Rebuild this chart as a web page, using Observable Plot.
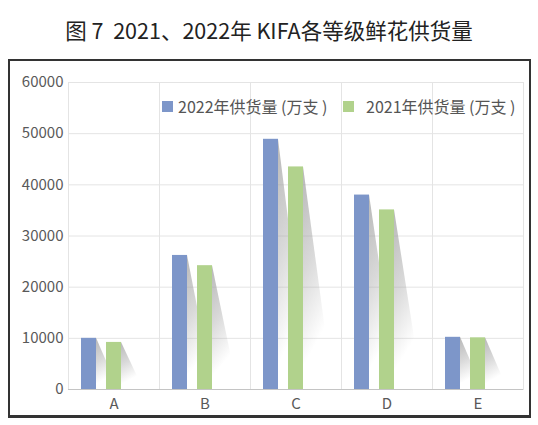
<!DOCTYPE html>
<html><head><meta charset="utf-8">
<script src="https://cdn.jsdelivr.net/npm/d3@7"></script>
<script src="https://cdn.jsdelivr.net/npm/@observablehq/plot@0.6"></script>
<style>
html,body{margin:0;padding:0;background:#fff;}
body{width:538px;height:425px;position:relative;overflow:hidden;font-family:"Noto Sans CJK SC","Noto Sans",sans-serif;}
#title{position:absolute;left:0;top:16px;width:538px;text-align:center;font-size:21.5px;color:#222;line-height:28px;white-space:pre;}
#box{position:absolute;left:8px;top:59px;width:519px;height:354px;border:2px solid #333;border-bottom-width:3px;}
#chart{position:absolute;left:0;top:58px;}
.sw{position:absolute;top:101px;width:11px;height:11px;}
.leg{position:absolute;top:97px;font-size:16px;color:#555;line-height:18px;white-space:pre;}
</style>
</head><body>
<div id="title">图 7  2021、2022年 KIFA各等级鲜花供货量</div>
<div id="box"></div>
<div id="chart"></div>
<div id="legend"></div>
<script>
const categories = ["A", "B", "C", "D", "E"];
const seriesKeys = ["2022", "2021"];
const seriesLabels = ["2022年供货量 (万支 )", "2021年供货量 (万支 )"];
const supply2022 = [10000, 26200, 48900, 38000, 10200];
const supply2021 = [9200, 24200, 43500, 35100, 10100];
const yTicks = [0, 10000, 20000, 30000, 40000, 50000, 60000];
const colors = ["#7d96c9", "#b1d28c"];

const rows = [];
categories.forEach((c, i) => {
  rows.push({cat: c, key: seriesKeys[0], value: supply2022[i]});
  rows.push({cat: c, key: seriesKeys[1], value: supply2021[i]});
});

let shadowCount = 0;
function shadowRender(index, scales, values, dimensions, context, next) {
  const g = next(index, scales, values, dimensions, context);
  const ns = "http://www.w3.org/2000/svg";
  const id = "shadowgrad" + (shadowCount++);
  const defs = document.createElementNS(ns, "defs");
  const lg = document.createElementNS(ns, "linearGradient");
  lg.setAttribute("id", id);
  lg.setAttribute("x1", "0"); lg.setAttribute("y1", "0");
  lg.setAttribute("x2", "0.25"); lg.setAttribute("y2", "1");
  [[0, 0.75], [0.45, 0.4], [0.85, 0]].forEach(([o, a]) => {
    const s = document.createElementNS(ns, "stop");
    s.setAttribute("offset", o);
    s.setAttribute("stop-color", "#a0a0a0");
    s.setAttribute("stop-opacity", a);
    lg.appendChild(s);
  });
  defs.appendChild(lg);
  g.insertBefore(defs, g.firstChild);
  g.querySelectorAll("rect").forEach(r => {
    const x = +r.getAttribute("x"), y = +r.getAttribute("y");
    const w = +r.getAttribute("width"), h = +r.getAttribute("height");
    const off = 20 + 0.045 * h;
    const p = document.createElementNS(ns, "polygon");
    p.setAttribute("points", `${x + w},${y} ${x + w + off},${y + h} ${x + w},${y + h}`);
    p.setAttribute("fill", `url(#${id})`);
    r.replaceWith(p);
  });
  return g;
}

const chart = Plot.plot({
  width: 538, height: 365,
  marginLeft: 66, marginRight: 14, marginTop: 24, marginBottom: 34,
  style: {fontFamily: '"Noto Sans CJK SC","Noto Sans",sans-serif', fontSize: "15px", color: "#595959", background: "transparent"},
  fx: {domain: categories, padding: 0, label: null, axis: "bottom", tickSize: 0, tickPadding: 9},
  x: {domain: [...seriesKeys, "_"], paddingInner: 0.41, paddingOuter: 0.5, axis: null},
  y: {domain: [0, 60000], ticks: yTicks, tickFormat: d3.format("d"), tickSize: 0, tickPadding: 5, label: null},
  color: {domain: seriesKeys, range: colors},
  marks: [
    Plot.gridY(yTicks, {stroke: "#e4e4e4", strokeOpacity: 1}),
    Plot.frame({stroke: "#e4e4e4"}),
    Plot.barY(rows, {fx: "cat", x: "key", y: "value", fill: "key", render: shadowRender}),
    Plot.barY(rows, {fx: "cat", x: "key", y: "value", fill: "key"}),
    Plot.ruleY([0], {stroke: "#c4c4c4"})
  ]
});
document.getElementById("chart").appendChild(chart);

const legend = document.getElementById("legend");
const swLeft = [162, 343], txtLeft = [178, 366];
seriesLabels.forEach((lab, i) => {
  const sw = document.createElement("div");
  sw.className = "sw"; sw.style.left = swLeft[i] + "px"; sw.style.background = colors[i];
  legend.appendChild(sw);
  const t = document.createElement("div");
  t.className = "leg"; t.style.left = txtLeft[i] + "px"; t.textContent = lab;
  legend.appendChild(t);
});
</script>
</body></html>
